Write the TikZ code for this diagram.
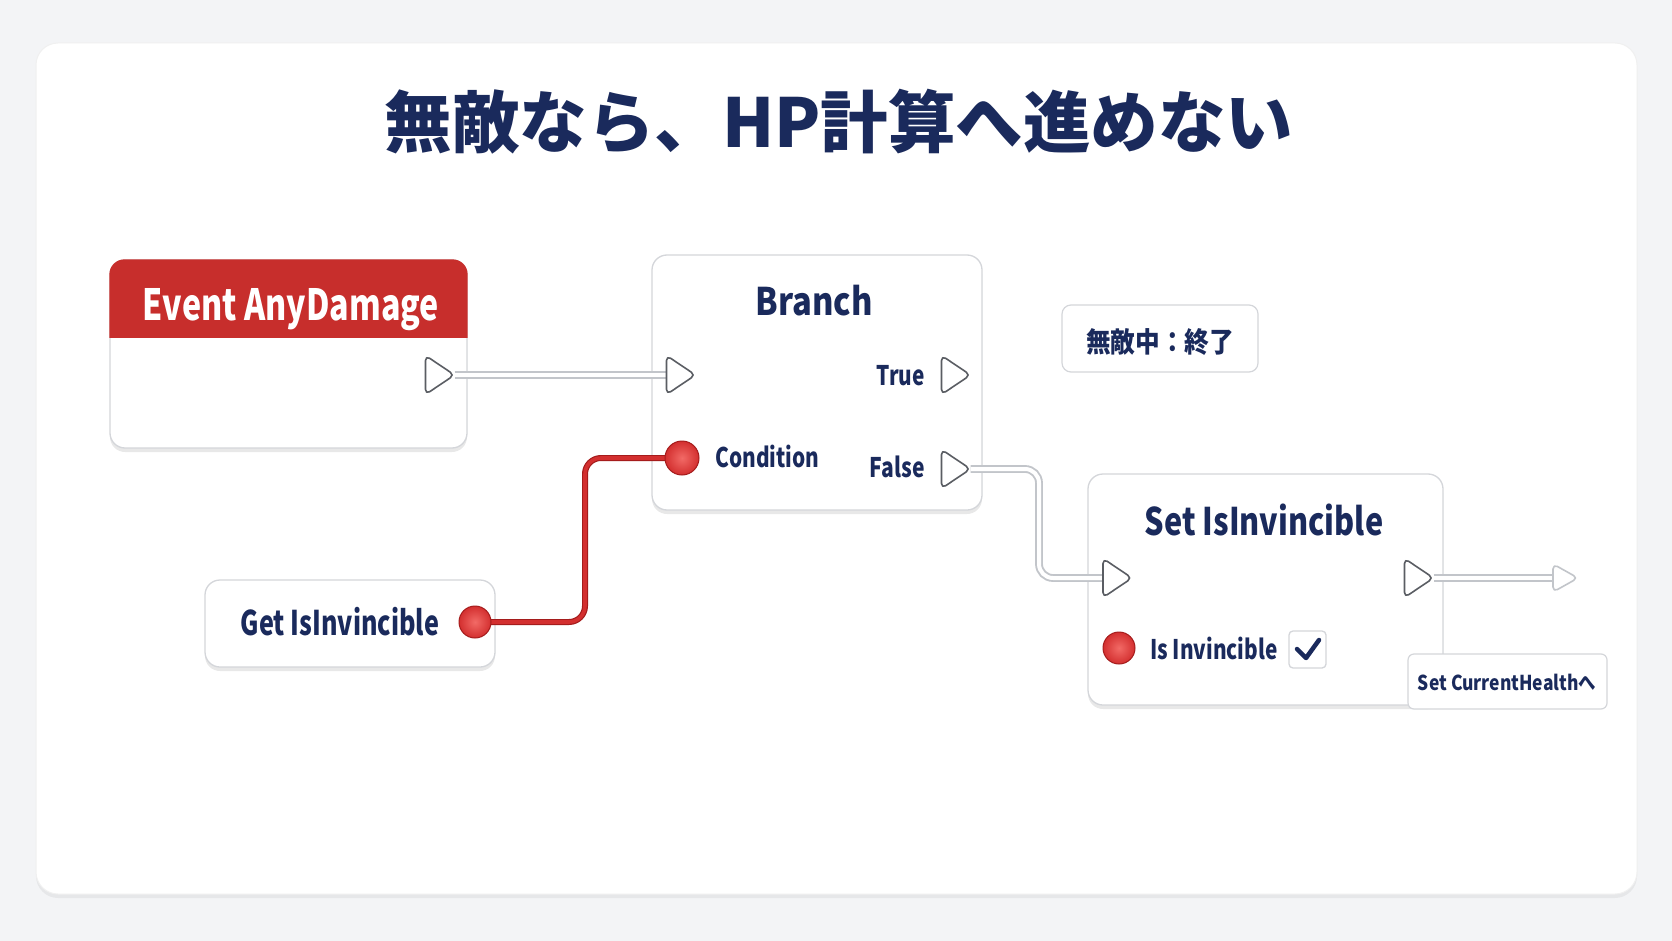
\documentclass[tikz,border=0pt]{standalone}
\usepackage{fontspec}
\setmainfont{Noto Sans CJK JP}
\usetikzlibrary{shadows,calc}
\definecolor{bg}{HTML}{F3F4F6}
\definecolor{navy}{HTML}{1A2A5C}
\definecolor{hdr}{HTML}{C72E2C}
\definecolor{pinred}{HTML}{D32F2F}
\definecolor{pinlight}{HTML}{F26A66}
\definecolor{pindark}{HTML}{A51C1C}
\definecolor{boxline}{HTML}{D4D6DA}
\definecolor{wire}{HTML}{C2C5CA}
\definecolor{pinline}{HTML}{5A5D63}
\newcommand\execpin[1]{\draw[pinshape] (#1.north west) -- (#1.east) -- (#1.south west) -- cycle;}
\newcommand\cx[2]{\scalebox{#1}[1]{#2}}
\begin{document}
\begin{tikzpicture}[x=1pt,y=-1pt,
  nodebox/.style={draw=boxline, fill=white, rounded corners=15pt, line width=1.3pt,
    drop shadow={shadow xshift=0pt, shadow yshift=-4pt, opacity=0.09, fill=black}},
  notebox/.style={draw=boxline, fill=white, rounded corners=9pt, line width=1.2pt},
  lbl/.style={text=navy, inner sep=0pt, font=\bfseries\fontsize{27}{32}\selectfont},
  pinbox/.style={minimum width=29pt, minimum height=39pt, inner sep=0pt, outer sep=0pt, draw=none},
  pinshape/.style={fill=white, draw=pinline, line width=1.6pt, rounded corners=5pt, line join=round},
  datapin/.style={circle, inner sep=0pt, minimum size=#1, shading=radial, inner color=pinlight, outer color=pinred, draw=pindark, line width=1pt},
  execwire/.style={draw=wire, double=white, line width=1.9pt, double distance=4pt, rounded corners=14pt},
  datawire/.style={draw=pindark, double=pinred, line width=1.2pt, double distance=3.6pt, rounded corners=16pt}
]
\useasboundingbox (0,0) rectangle (1672,941);
\fill[bg] (0,0) rectangle (1672,941);
\fill[white, draw=gray!12, line width=1pt, rounded corners=22pt,
  drop shadow={shadow xshift=0pt, shadow yshift=-4pt, opacity=0.05, fill=black}] (36,43) rectangle (1637,894);

% title
\node[text=navy, inner sep=0pt, font=\bfseries\fontsize{67.5}{80}\selectfont] (title) at (839,122) {無敵なら、HP計算へ進めない};

% Event AnyDamage
\node[nodebox, minimum width=357pt, minimum height=188pt] (evt) at (288.5,354) {};
\begin{scope}
  \clip[rounded corners=15pt] (evt.north west) rectangle (evt.south east);
  \fill[hdr] (evt.north west) rectangle (evt.east |- 0,338);
\end{scope}
\node[text=white, inner sep=0pt, anchor=base, font=\bfseries\fontsize{43}{50}\selectfont] (evttxt) at (291,320) {\cx{0.75}{Event AnyDamage}};

% Branch
\node[nodebox, minimum width=330pt, minimum height=255pt] (br) at (817,382.5) {};
\node[lbl, anchor=base, font=\bfseries\fontsize{38}{44}\selectfont] (brtxt) at (814,315) {\cx{0.86}{Branch}};
\node[lbl, anchor=base east] (truetxt) at (925,385) {\cx{0.77}{True}};
\node[lbl, anchor=base west] (condtxt) at (715,467) {\cx{0.77}{Condition}};
\node[lbl, anchor=base east] (falsetxt) at (925,477) {\cx{0.78}{False}};

% note
\node[notebox, minimum width=196pt, minimum height=67pt] (note) at (1160,338.5) {};
\node[lbl, font=\bfseries\fontsize{28}{32}\selectfont] (notetxt) at (1160,342) {\cx{0.88}{無敵中：終了}};

% Set IsInvincible
\node[nodebox, minimum width=355pt, minimum height=231pt] (set) at (1265.5,589.5) {};
\node[lbl, anchor=base, font=\bfseries\fontsize{38}{44}\selectfont] (settxt) at (1264,535) {\cx{0.806}{Set IsInvincible}};
\node[lbl, anchor=base west] (isinvtxt) at (1150,659) {\cx{0.77}{Is Invincible}};
\node[draw=boxline, fill=white, rounded corners=4pt, line width=1.3pt, minimum width=37pt, minimum height=37pt, inner sep=0pt] (chk) at (1307.5,649.5) {};
\draw[navy, line width=4.5pt, line cap=round, line join=round] (1297,649) -- (1306,658) -- (1319,640);

\node[notebox, minimum width=199pt, minimum height=55pt, rounded corners=6pt] (nextlbl) at (1507.5,681.5) {};
\node[lbl, anchor=base, font=\bfseries\fontsize{20.5}{24}\selectfont] (nexttxt) at (1507,690) {\cx{0.85}{Set CurrentHealthへ}};

% Get IsInvincible
\node[nodebox, minimum width=290pt, minimum height=87pt] (get) at (350,623.5) {};
\node[lbl, anchor=base, font=\bfseries\fontsize{34}{40}\selectfont] (gettxt) at (340,635) {\cx{0.74}{Get IsInvincible}};

% pin anchors
\node[pinbox] (evOut) at (440,375) {};
\node[pinbox] (brIn) at (681,375) {};
\node[pinbox] (brTrue) at (956,375) {};
\node[pinbox] (brFalse) at (956,469) {};
\node[pinbox] (setIn) at (1117.5,578) {};
\node[pinbox] (setOut) at (1419,578) {};
\node[pinbox, minimum width=25pt, minimum height=28pt] (outArrow) at (1565.5,578) {};
\coordinate (getPinC) at (475,622);
\coordinate (condPinC) at (682,458);

% wires
\draw[execwire] (evOut.east) -- (brIn.west);
\draw[execwire] (brFalse.east) -- (1039,469) |- (setIn.west);
\draw[execwire] (setOut.east) -- (outArrow.west);
\draw[datawire] (getPinC) -- (585,622) |- (condPinC);

% exec pins
\execpin{evOut}
\execpin{brIn}
\execpin{brTrue}
\execpin{brFalse}
\execpin{setIn}
\execpin{setOut}
\draw[pinshape, draw=wire] (outArrow.north west) -- (outArrow.east) -- (outArrow.south west) -- cycle;

% data pins
\node[datapin=32pt] (getPin) at (getPinC) {};
\node[datapin=34pt] (condPin) at (condPinC) {};
\node[datapin=32pt] (isinvPin) at (1119,648) {};
\end{tikzpicture}
\end{document}
